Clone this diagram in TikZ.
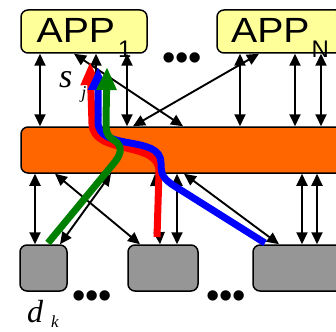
\documentclass[tikz,border=0pt]{standalone}
\usepackage{fontspec}
\usepackage{tikz}
\usepackage{xcolor}
\usetikzlibrary{arrows.meta}

\newfontfamily\appfont[FakeStretch=1.12]{Liberation Sans}
\newfontfamily\subfont{Liberation Sans}
\newfontfamily\lblfont{Liberation Serif}

\definecolor{appyellow}{RGB}{255,255,153}
\definecolor{busorange}{RGB}{255,102,0}
\definecolor{devgray}{RGB}{150,150,150}
\definecolor{flowgreen}{RGB}{0,128,0}

\tikzset{
  app/.style={draw, line width=1.5pt, rounded corners=7pt, fill=appyellow,
    minimum width=126pt, minimum height=43pt, inner sep=0pt,
    text height=31pt, text depth=9pt},
  bus/.style={draw, line width=1.5pt, rounded corners=7pt, fill=busorange,
    minimum width=330pt, minimum height=46pt, inner sep=0pt},
  dev/.style={draw, line width=1.5pt, rounded corners=7pt, fill=devgray,
    minimum height=46pt, inner sep=0pt},
  link/.style={line width=1.9pt,
    {Triangle[length=12pt,width=11pt]}-{Triangle[length=12pt,width=11pt]}},
  flow/.style={line width=7pt, -{Triangle[length=23pt,width=19pt]}},
  dots/.style={inner sep=0pt, font=\subfont\fontsize{38}{38}\selectfont},
  lbl/.style={inner sep=0pt, anchor=base west, font=\lblfont\itshape},
}

\begin{document}
\begin{tikzpicture}[x=1pt, y=-1pt]
\useasboundingbox (0,0) rectangle (336,331);

% applications
\node[app] (app1) at (84,31.5) {{\appfont\fontsize{35}{35}\selectfont APP}\hspace{3pt}\raisebox{-15pt}{\subfont\fontsize{24}{24}\selectfont 1}};
\node[app] (appN) at (280,31.5) {{\appfont\fontsize{35}{35}\selectfont APP}\hspace{2pt}\raisebox{-15pt}{\subfont\fontsize{24}{24}\selectfont N}};
\node[dots] (dtop) at (182,62) {•••};

% bus and devices
\node[bus] (bus) at (186,150) {};
\node[dev, minimum width=47pt] (dev1) at (43.5,268) {};
\node[dev, minimum width=70pt] (dev2) at (163,268) {};
\node[dev, minimum width=90pt] (dev3) at (298,268) {};
\node[dots] (dbot1) at (92,300) {•••};
\node[dots] (dbot2) at (226,300) {•••};

% links app <-> bus
\draw[link] (app1.south -| 40,0) -- (bus.north -| 40,0);
\draw[link] (app1.south -| 74,0) -- (bus.north -| 183,0);
\draw[link] (app1.south -| 96,0) -- (bus.north -| 96,0);
\draw[link] (app1.south -| 127,0) -- (bus.north -| 127,0);
\draw[link] (appN.south -| 259,0) -- (bus.north -| 133,0);
\draw[link] (appN.south -| 240,0) -- (bus.north -| 240,0);
\draw[link] (appN.south -| 295,0) -- (bus.north -| 295,0);
\draw[link] (appN.south -| 321,0) -- (bus.north -| 321,0);

% links bus <-> devices
\draw[link] (bus.south -| 35,0) -- (dev1.north -| 35,0);
\draw[link] (bus.south -| 55,0) -- (dev2.north -| 140,0);
\draw[link] (bus.south -| 111,0) -- (dev1.north -| 60,0);
\draw[link] (bus.south -| 155,0) -- (dev2.north -| 160,0);
\draw[link] (bus.south -| 177,0) -- (dev2.north -| 177,0);
\draw[link] (bus.south -| 184,0) -- (dev3.north -| 279,0);
\draw[link] (bus.south -| 302,0) -- (dev3.north -| 302,0);
\draw[link] (bus.south -| 317,0) -- (dev3.north -| 317,0);

% flows
\draw[flow, red] (157,237) -- (159,172) .. controls (160,140) and (93,156) .. (92,124) -- (90,62);
\draw[flow, blue] (265,243) -- (176,187) .. controls (163,179) and (161,175) .. (161,163)
  .. controls (161,134) and (98,152) .. (98,122) -- (98,67);
\draw[flow, flowgreen] (48,243) -- (114,163) .. controls (124,151) and (121,144) .. (112,139)
  .. controls (106,135) and (106,130) .. (106,120) -- (107,67);

% labels
\node[lbl] (sj) at (59,88) {\fontsize{34}{34}\selectfont s\hspace{9pt}\raisebox{-11pt}{\fontsize{18}{18}\selectfont j}};
\node[lbl] (dk) at (27,322) {\fontsize{32}{32}\selectfont d\hspace{8pt}\raisebox{-5pt}{\fontsize{17}{17}\selectfont k}};
\end{tikzpicture}
\end{document}
